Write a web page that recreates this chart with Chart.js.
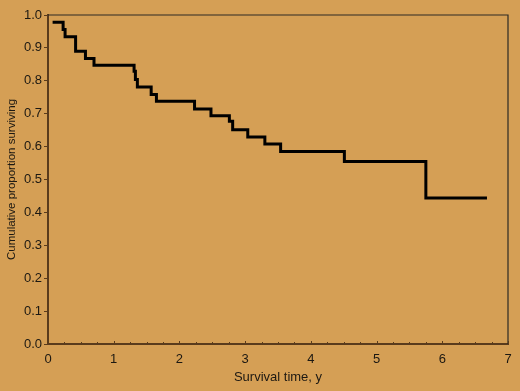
<!DOCTYPE html>
<html>
<head>
<meta charset="utf-8">
<script src="https://cdn.jsdelivr.net/npm/chart.js@4"></script>
<style>
  html, body { margin: 0; padding: 0; background: #d59f55; }
  #wrap { width: 520px; height: 391px; position: relative; }
</style>
</head>
<body>
<div id="wrap"><canvas id="kmChart" width="520" height="391"></canvas></div>
<script>
// survival step points (time in years, cumulative proportion surviving)
const times = [0.07, 0.23, 0.26, 0.42, 0.57, 0.70, 1.31, 1.33, 1.36, 1.57, 1.65, 2.23, 2.48, 2.76, 2.81, 3.04, 3.30, 3.54, 4.51, 5.75, 6.68];
const survival = [0.978, 0.956, 0.934, 0.890, 0.868, 0.847, 0.829, 0.804, 0.781, 0.758, 0.738, 0.714, 0.694, 0.677, 0.651, 0.629, 0.608, 0.585, 0.555, 0.444, 0.444];
const xTickLabels = ['0', '1', '2', '3', '4', '5', '6', '7'];
const yTickLabels = ['0.0', '0.1', '0.2', '0.3', '0.4', '0.5', '0.6', '0.7', '0.8', '0.9', '1.0'];

const axisColor = '#5a3b1c';
const textColor = '#1c1812';

// inward x ticks + thin top/right frame
const framePlugin = {
  id: 'frame',
  afterDraw(chart) {
    const { ctx, chartArea: a, scales } = chart;
    ctx.save();
    ctx.strokeStyle = '#2e2a24';
    ctx.lineWidth = 1.2;
    ctx.beginPath();
    ctx.moveTo(a.left, a.top);
    ctx.lineTo(a.right, a.top);
    ctx.lineTo(a.right, a.bottom);
    ctx.stroke();

    ctx.strokeStyle = axisColor;
    ctx.lineWidth = 1;
    for (let v = 0; v <= 7; v += 0.25) {
      const px = Math.round(scales.x.getPixelForValue(v)) + 0.5;
      const len = Number.isInteger(v) ? 3 : 2;
      ctx.beginPath();
      ctx.moveTo(px, a.bottom);
      ctx.lineTo(px, a.bottom - len);
      ctx.stroke();
    }
    ctx.restore();
  }
};

new Chart(document.getElementById('kmChart'), {
  type: 'line',
  data: {
    datasets: [{
      data: times.map((t, i) => ({ x: t, y: survival[i] })),
      stepped: true,
      borderColor: '#000',
      borderWidth: 3,
      pointRadius: 0,
      fill: false
    }]
  },
  options: {
    responsive: false,
    animation: false,
    layout: { padding: { top: 15, right: 12, left: 0, bottom: 0 } },
    plugins: { legend: { display: false }, tooltip: { enabled: false } },
    scales: {
      x: {
        type: 'linear',
        min: 0, max: 7,
        afterFit(s) { s.height = 47; },
        grid: { display: true, drawOnChartArea: false, drawTicks: false },
        border: { display: true, color: axisColor, width: 2 },
        ticks: {
          stepSize: 1,
          padding: 8,
          maxRotation: 0,
          autoSkip: false,
          color: textColor,
          font: { family: 'Liberation Sans, Arial', size: 13 },
          callback: (v) => xTickLabels[v] ?? ''
        },
        title: {
          display: true,
          text: 'Survival time, y',
          color: textColor,
          font: { family: 'Liberation Sans, Arial', size: 13 },
          padding: { top: 0, bottom: 6 }
        }
      },
      y: {
        min: 0, max: 1,
        afterFit(s) { s.width = 48; },
        grid: { display: true, drawOnChartArea: false, drawTicks: true, tickLength: 4, color: axisColor },
        border: { display: true, color: axisColor, width: 2 },
        ticks: {
          stepSize: 0.1,
          padding: 2,
          color: textColor,
          font: { family: 'Liberation Sans, Arial', size: 13 },
          callback: (v) => yTickLabels[Math.round(v * 10)]
        },
        title: {
          display: true,
          text: 'Cumulative proportion surviving',
          color: textColor,
          font: { family: 'Liberation Sans, Arial', size: 11.5 },
          padding: { top: 5, bottom: 0 }
        }
      }
    }
  },
  plugins: [framePlugin]
});
</script>
</body>
</html>
